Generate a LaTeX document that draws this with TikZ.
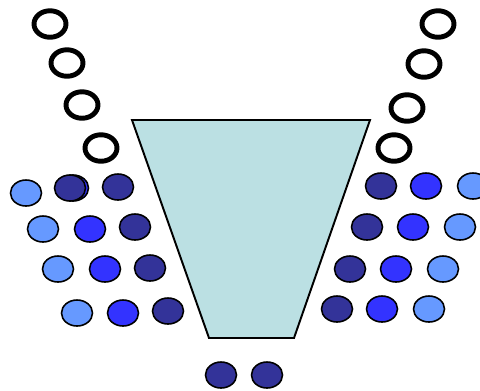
\documentclass[tikz,border=0pt]{standalone}
\usepackage{tikz}
\usetikzlibrary{shapes.geometric}
\definecolor{funnel}{HTML}{BBE0E3}
\definecolor{pale}{HTML}{6699FF}
\definecolor{bright}{HTML}{3333FF}
\definecolor{navy}{HTML}{333399}
\tikzset{
  ring/.style={ellipse, draw, line width=2.8pt, inner sep=0pt,
    minimum width=0.64cm, minimum height=0.53cm},
  ball/.style={ellipse, draw, line width=0.9pt, inner sep=0pt,
    minimum width=0.62cm, minimum height=0.52cm, fill=#1}
}
\begin{document}
\begin{tikzpicture}[x=0.02cm, y=-0.02cm]
      \useasboundingbox (0, 0) rectangle (480, 390);
      % funnel
      \coordinate (TL) at (132, 120);
      \coordinate (TR) at (370, 120);
      \coordinate (BR) at (294, 338);
      \coordinate (BL) at (209, 338);
      \draw[fill=funnel, line width=1.1pt] (TL) -- (TR) -- (BR) -- (BL) -- cycle;
      % rings
      \node[ring] (A1) at (50, 24) {};
      \node[ring] (A2) at (67, 63) {};
      \node[ring] (A3) at (82, 105) {};
      \node[ring] (A4) at (101, 148) {};
      \node[ring] (B1) at (438, 24) {};
      \node[ring] (B2) at (424, 64) {};
      \node[ring] (B3) at (407, 108) {};
      \node[ring] (B4) at (394, 148) {};
      % left balls
      \node[ball=pale] (L11) at (26, 193) {};
      \node[ball=bright] (L12b) at (73, 188) {};
      \node[ball=navy] (L12) at (70, 188) {};
      \node[ball=navy] (L13) at (118, 187) {};
      \node[ball=pale] (L21) at (43, 229) {};
      \node[ball=bright] (L22) at (90, 229) {};
      \node[ball=navy] (L23) at (135, 227) {};
      \node[ball=pale] (L31) at (58, 269) {};
      \node[ball=bright] (L32) at (105, 269) {};
      \node[ball=navy] (L33) at (150, 268) {};
      \node[ball=pale] (L41) at (77, 313) {};
      \node[ball=bright] (L42) at (123, 313) {};
      \node[ball=navy] (L43) at (168, 311) {};
      % right balls
      \node[ball=navy] (R11) at (381, 186) {};
      \node[ball=bright] (R12) at (426, 186) {};
      \node[ball=pale] (R13) at (473, 186) {};
      \node[ball=navy] (R21) at (367, 227) {};
      \node[ball=bright] (R22) at (413, 227) {};
      \node[ball=pale] (R23) at (460, 227) {};
      \node[ball=navy] (R31) at (350, 269) {};
      \node[ball=bright] (R32) at (396, 269) {};
      \node[ball=pale] (R33) at (443, 269) {};
      \node[ball=navy] (R41) at (337, 309) {};
      \node[ball=bright] (R42) at (382, 309) {};
      \node[ball=pale] (R43) at (429, 309) {};
      % below the funnel
      \node[ball=navy] (D1) at (221, 375) {};
      \node[ball=navy] (D2) at (267, 375) {};
\end{tikzpicture}
\end{document}
